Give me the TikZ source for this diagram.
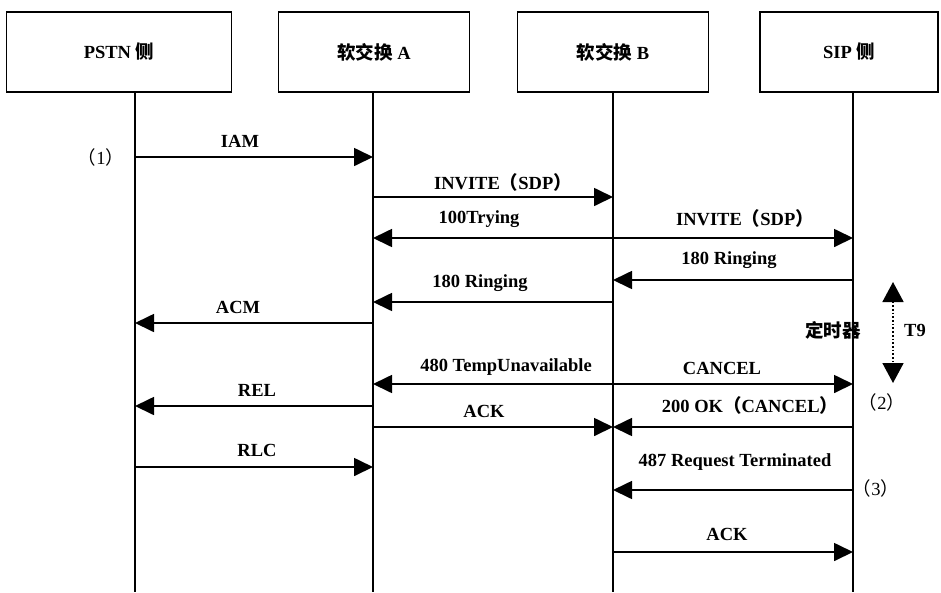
\documentclass[tikz,border=0pt]{standalone}
\usepackage{fontspec}
\setmainfont{Liberation Serif}
\newfontfamily\cjk{Noto Sans CJK SC}
\usetikzlibrary{arrows.meta}
\newcommand\lblfont{\fontsize{18.5}{22}\selectfont\bfseries}
\newcommand\zh[1]{{\cjk\bfseries #1}}
\newcommand\numlbl[1]{{\mdseries\cjk （}{\mdseries #1}{\mdseries\cjk ）}}
\begin{document}
\begin{tikzpicture}[x=1pt,y=-1pt,
  actor/.style={draw, line width=1.8pt, minimum height=80pt, inner sep=0pt, font=\lblfont},
  life/.style={line width=1.7pt},
  msg/.style={line width=1.7pt, -{Triangle[length=19pt,width=18pt]}},
  lbl/.style={font=\lblfont, inner sep=0pt, anchor=center},
  timer/.style={line width=1.7pt, dotted, {Triangle[length=20pt,width=21pt]}-{Triangle[length=20pt,width=21pt]}}
]
\useasboundingbox (0,0) rectangle (941,592);

% actors
\node[actor, minimum width=225pt] (pstn) at (119,52) {PSTN \zh{侧}};
\node[actor, minimum width=191pt] (swa) at (374,52) {\zh{软交换} A};
\node[actor, minimum width=191pt] (swb) at (613,52) {\zh{软交换} B};
\node[actor, minimum width=178pt] (sip) at (849,52) {SIP \zh{侧}};

% lifeline ends
\coordinate (Pend) at (135,592);
\coordinate (Aend) at (373,592);
\coordinate (Bend) at (613,592);
\coordinate (Send) at (853,592);
\draw[life] (pstn.south -| Pend) -- (Pend);
\draw[life] (swa.south -| Aend) -- (Aend);
\draw[life] (swb.south -| Bend) -- (Bend);
\draw[life] (sip.south -| Send) -- (Send);

% row points on lifelines
\foreach \n/\x in {P/135,A/373,B/613,S/853}{
  \foreach \r/\y in {1/157,2/197,3/238,4/280,5/302,6/323,7/384,8/406,9/427,10/467,11/490,12/552}{
    \coordinate (\n\r) at (\x,\y);
  }
}

% messages
\draw[msg] (P1) -- (A1);
\draw[msg] (A2) -- (B2);
\draw[msg] (B3) -- (A3);
\draw[msg] (B3) -- (S3);
\draw[msg] (S4) -- (B4);
\draw[msg] (B5) -- (A5);
\draw[msg] (A6) -- (P6);
\draw[msg] (B7) -- (A7);
\draw[msg] (B7) -- (S7);
\draw[msg] (A8) -- (P8);
\draw[msg] (A9) -- (B9);
\draw[msg] (S9) -- (B9);
\draw[msg] (P10) -- (A10);
\draw[msg] (S11) -- (B11);
\draw[msg] (B12) -- (S12);

% labels
\node[lbl] (l1) at (240,141) {IAM};
\node[lbl] (l2) at (503,182) {INVITE\zh{（}SDP\zh{）}};
\node[lbl] (l3) at (479,219) {100Trying};
\node[lbl] (l4) at (745,218) {INVITE\zh{（}SDP\zh{）}};
\node[lbl] (l5) at (729,260) {180 Ringing};
\node[lbl] (l6) at (480,283) {180 Ringing};
\node[lbl] (l7) at (238,307) {ACM};
\node[lbl] (l8) at (506,367) {480 TempUnavailable};
\node[lbl] (l9) at (722,368) {CANCEL};
\node[lbl] (l10) at (257,390) {REL};
\node[lbl] (l11) at (484,411) {ACK};
\node[lbl] (l12) at (750,405) {200 OK\zh{（}CANCEL\zh{）}};
\node[lbl] (l13) at (257,450) {RLC};
\node[lbl] (l14) at (735,462) {487 Request Terminated};
\node[lbl] (l15) at (727,534) {ACK};
\node[lbl] (n1) at (101,157) {\numlbl{1}};
\node[lbl] (n2) at (882,402) {\numlbl{2}};
\node[lbl] (n3) at (876,488) {\numlbl{3}};

% timer
\coordinate (Ttop) at (893,282);
\coordinate (Tbot) at (893,383);
\draw[timer] (Ttop) -- (Tbot);
\node[lbl] (tz) at (833,330) {\zh{定时器}};
\node[lbl] (t9) at (915,330) {T9};
\end{tikzpicture}
\end{document}
